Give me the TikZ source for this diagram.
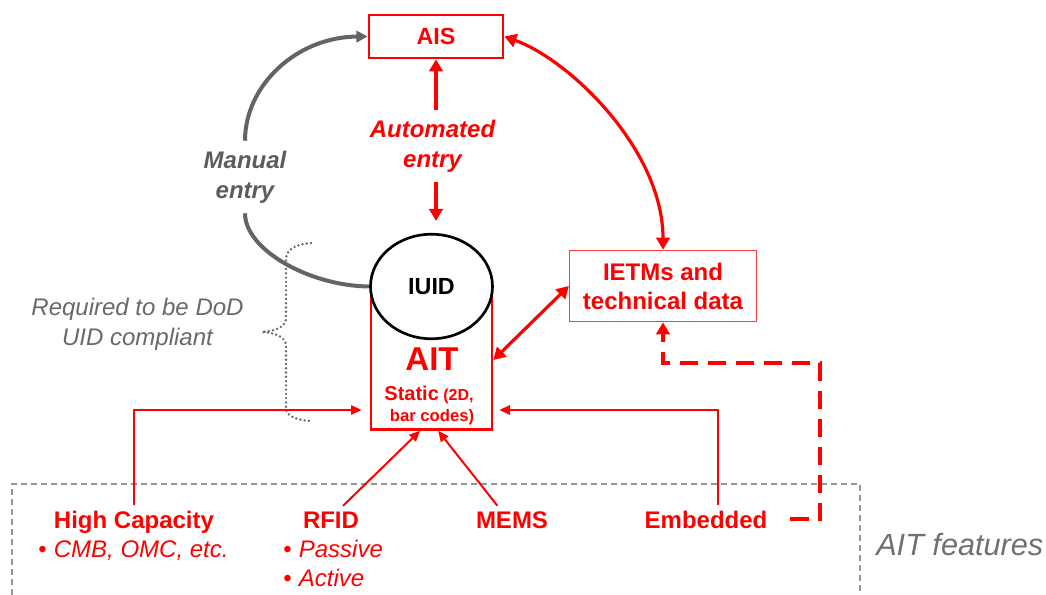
\documentclass[tikz,border=0pt]{standalone}
\usepackage{fontspec}
\setmainfont{Liberation Sans}
\usetikzlibrary{arrows.meta,shapes.geometric}
\definecolor{pred}{RGB}{255,0,0}
\definecolor{lred}{RGB}{255,60,60}
\definecolor{cgray}{RGB}{100,100,100}
\definecolor{tgray}{RGB}{92,92,92}
\definecolor{rgray}{RGB}{105,105,105}
\definecolor{fgray}{RGB}{112,112,112}
\definecolor{bgray}{RGB}{150,150,150}
\tikzset{
  rtip/.tip={Triangle[length=9pt,width=10pt]},
  stip/.tip={Triangle[length=8pt,width=7pt]},
  gtip/.tip={Triangle[length=8.5pt,width=8.5pt]},
  redline/.style={draw=pred, line width=2.4pt},
  redthin/.style={draw=pred, line width=1.5pt},
  grayline/.style={draw=cgray, line width=3pt},
  dashline/.style={draw=pred, line width=3pt, dash pattern=on 14pt off 7pt},
  bracestyle/.style={draw=rgray, line width=2pt, line cap=round, dash pattern=on 0pt off 3.2pt},
  lbl/.style={font=\fontsize{18}{22.5}\selectfont\bfseries, text=pred, align=center},
  featlbl/.style={font=\fontsize{18}{22.5}\selectfont\bfseries, text=pred, anchor=base, inner sep=4pt},
  itemlbl/.style={font=\fontsize{18}{22.5}\selectfont, text=pred, anchor=base west, inner sep=0pt},
}
\begin{document}
\begin{tikzpicture}[x=0.75pt,y=-0.75pt]
\useasboundingbox (0,0) rectangle (1046,595);
\clip (0,0) rectangle (1046,595);

% AIT features frame
\draw[bgray, line width=0.9pt, dash pattern=on 4.5pt off 3pt] (12,605) -- (12,484) -- (860,484) -- (860,605);

% nodes
\node[draw=pred, line width=2pt, fill=white, minimum width=100.5pt, minimum height=32.25pt, inner sep=0pt, text=pred, font=\fontsize{17.5}{21}\selectfont\bfseries] (ais) at (436,36.5) {AIS};

\node[draw=pred, line width=2pt, minimum width=90.75pt, minimum height=104.25pt, inner sep=0pt] (ait) at (431.5,360) {};
\node[ellipse, draw=black, line width=2pt, fill=white, minimum width=91.5pt, minimum height=78.4pt, inner sep=0pt, font=\fontsize{17.5}{21}\selectfont\bfseries] (iuid) at (431.5,286.5) {IUID};

\node[anchor=base, inner sep=0pt, font=\fontsize{24.75}{30}\selectfont\bfseries, text=pred] (aitlabel) at (432,370) {AIT};
\node[anchor=base, inner sep=0pt, font=\fontsize{15}{18}\selectfont\bfseries, text=pred] (static) at (429,400) {Static\fontsize{12}{14}\selectfont{} (2D,};
\node[anchor=base, inner sep=0pt, font=\fontsize{12.5}{15}\selectfont\bfseries, text=pred] (barcodes) at (432,421) {bar codes)};

\node[draw=lred, line width=1.2pt, minimum width=140pt, minimum height=53.25pt, inner sep=0pt, font=\fontsize{18}{21.75}\selectfont\bfseries, text=pred, align=center] (ietms) at (663,286) {IETMs and\\technical data};

\node[lbl, font=\fontsize{18}{22.5}\selectfont\bfseries\itshape, inner sep=0pt, minimum height=54pt] (auto) at (432.5,146) {Automated\\entry};
\node[lbl, font=\fontsize{18}{22.5}\selectfont\bfseries\itshape, text=tgray, inner sep=0pt, minimum height=54pt] (manual) at (245,177) {Manual\\entry};

\node[font=\fontsize{18}{22.5}\selectfont\itshape, text=rgray, align=center, inner sep=0pt] (req) at (137.5,324.5) {Required to be DoD\\UID compliant};

\node[featlbl] (hc) at (134,528) {High Capacity};
\node[featlbl] (rfid) at (331,528) {RFID};
\node[featlbl] (mems) at (512,528) {MEMS};
\node[featlbl] (emb) at (706,528) {Embedded};

\node[itemlbl] (hcitem) at (38,557) {•\hspace{0.3em}\textit{CMB, OMC, etc.}};
\node[itemlbl] (passive) at (283,557) {•\hspace{0.3em}\textit{Passive}};
\node[itemlbl] (active) at (283,586) {•\hspace{0.3em}\textit{Active}};

\node[anchor=base west, inner sep=0pt, font=\fontsize{23}{27}\selectfont\itshape, text=fgray] (feat) at (876,555) {AIT features};

% brace
\draw[bracestyle] (311,243) .. controls (296,244) and (286,249) .. (286,260) -- (286,318)
  .. controls (286,327) and (276,331) .. (262,332) .. controls (276,333) and (286,337) .. (286,346)
  -- (286,408) .. controls (286,416) and (296,420) .. (310,421);

% connectors
\draw[grayline] (iuid.west) .. controls (310,286) and (245,250) .. (manual.south);
\draw[grayline, -gtip] (manual.north) .. controls (245,85) and (297,37) .. (ais.west);

\draw[redline, -rtip] (ais.south |- auto.north) -- (ais.south);
\draw[redline, -rtip, shorten >=9pt] (ais.south |- auto.south) -- (ais.south |- iuid.north);

\draw[redline, rtip-rtip] (ais.east) .. controls (570,60) and (663,150) .. (ietms.north);
\draw[redline, rtip-rtip] (ietms.west) -- (ait.east);

\coordinate (dcorner) at (820,363);
\draw[dashline, -rtip] ([xshift=12.75pt]emb.east) -| (dcorner) -| (ietms.south);

\draw[redthin, -stip, shorten >=6pt] (hc.north) |- ([yshift=-37.5pt]ait.west);
\draw[redthin, -stip, shorten >=4.5pt] ([xshift=9pt]emb.north) |- ([yshift=-37.5pt]ait.east);
\draw[redthin, -stip] ([xshift=9pt]rfid.north) -- ([xshift=-8.6pt]ait.south);
\draw[redthin, -stip] ([xshift=-11pt]mems.north) -- ([xshift=5pt]ait.south);
\end{tikzpicture}
\end{document}
